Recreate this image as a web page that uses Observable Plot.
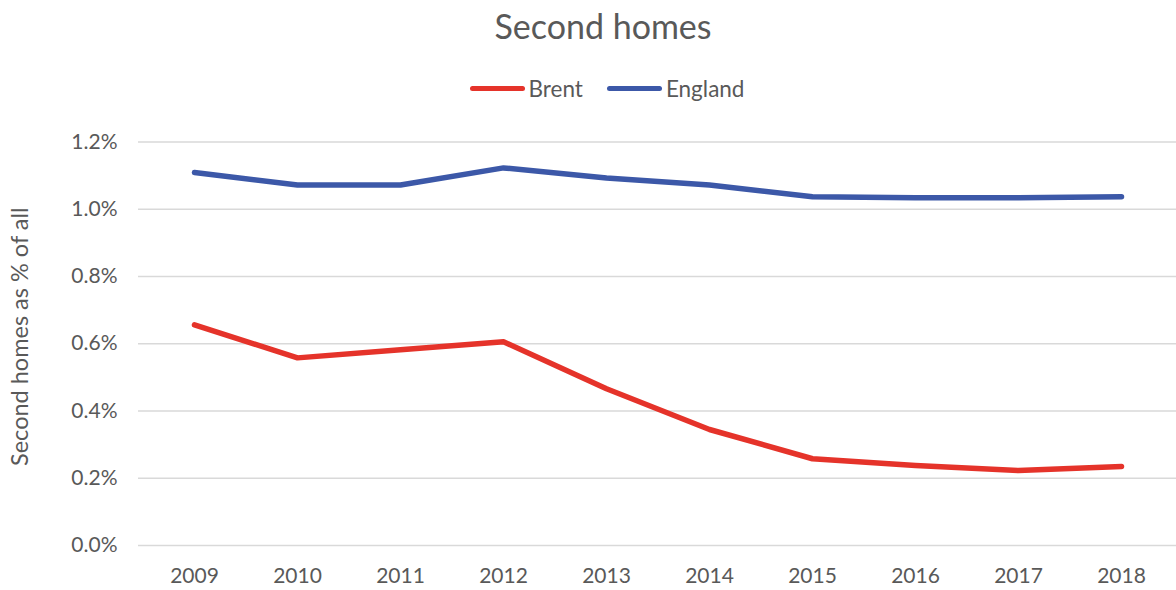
<!DOCTYPE html>
<html>
<head>
<meta charset="utf-8">
<script src="https://cdn.jsdelivr.net/npm/d3@7"></script>
<script src="https://cdn.jsdelivr.net/npm/@observablehq/plot@0.6"></script>
<style>
  html, body { margin: 0; padding: 0; background: #fff; }
  body { width: 1176px; height: 590px; overflow: hidden; font-family: Lato, "Open Sans", sans-serif; color: #595959; }
  #title { height: 52px; line-height: 52px; text-align: center; font-size: 34px; padding-left: 30px; box-sizing: border-box; }
  #legend { height: 68px; display: flex; justify-content: center; align-items: center; font-size: 22.5px; padding-left: 38px; box-sizing: border-box; padding-top: 4px; }
  .item { display: flex; align-items: center; margin: 0 12px; }
  .sw { width: 55px; height: 5px; border-radius: 3px; margin-right: 4px; }
</style>
</head>
<body>
<div id="title">Second homes</div>
<div id="legend"></div>
<div id="chart"></div>
<script>
const years = [2009, 2010, 2011, 2012, 2013, 2014, 2015, 2016, 2017, 2018];
const brent = [0.656, 0.558, 0.582, 0.606, 0.466, 0.345, 0.258, 0.238, 0.223, 0.235];
const england = [1.109, 1.072, 1.072, 1.123, 1.093, 1.072, 1.037, 1.034, 1.034, 1.037];
const seriesNames = ["Brent", "England"];
const seriesColors = ["#E5332A", "#3C58A8"];
const yTicks = [0, 0.2, 0.4, 0.6, 0.8, 1.0, 1.2];

const data = [];
years.forEach((y, i) => {
  data.push({year: String(y), series: "Brent", value: brent[i]});
  data.push({year: String(y), series: "England", value: england[i]});
});

const legend = document.getElementById("legend");
seriesNames.forEach((n, i) => {
  const it = document.createElement("div");
  it.className = "item";
  it.innerHTML = `<div class="sw" style="background:${seriesColors[i]}"></div><span>${n}</span>`;
  legend.appendChild(it);
});

const chart = Plot.plot({
  width: 1176,
  height: 470,
  marginLeft: 138,
  marginRight: 0,
  marginTop: 21.5,
  marginBottom: 45,
  style: {fontFamily: "Lato, 'Open Sans', sans-serif", fontSize: "21px", color: "#595959", background: "#fff"},
  x: {type: "point", domain: years.map(String), padding: 0.5, label: null},
  y: {domain: [0, 1.2], ticks: yTicks, label: null},
  color: {domain: seriesNames, range: seriesColors},
  marks: [
    Plot.gridY(yTicks, {stroke: "#d9d9d9", strokeOpacity: 1, strokeWidth: 1.5}),
    Plot.axisY(yTicks, {tickSize: 0, tickPadding: 21, tickFormat: d => d.toFixed(1) + "%", fill: "#595959", fontSize: 21, label: null}),
    Plot.axisX({tickSize: 0, tickPadding: 23, fill: "#595959", fontSize: 21, label: null}),
    Plot.line(data, {x: "year", y: "value", z: "series", stroke: "series", strokeWidth: 5.5, strokeLinecap: "round", strokeLinejoin: "round"}),
    Plot.text(["Second homes as % of all"], {frameAnchor: "left", dx: -118, dy: -7, rotate: -90, textAnchor: "middle", fontSize: 23.5, fill: "#595959"})
  ]
});
document.getElementById("chart").appendChild(chart);
</script>
</body>
</html>
